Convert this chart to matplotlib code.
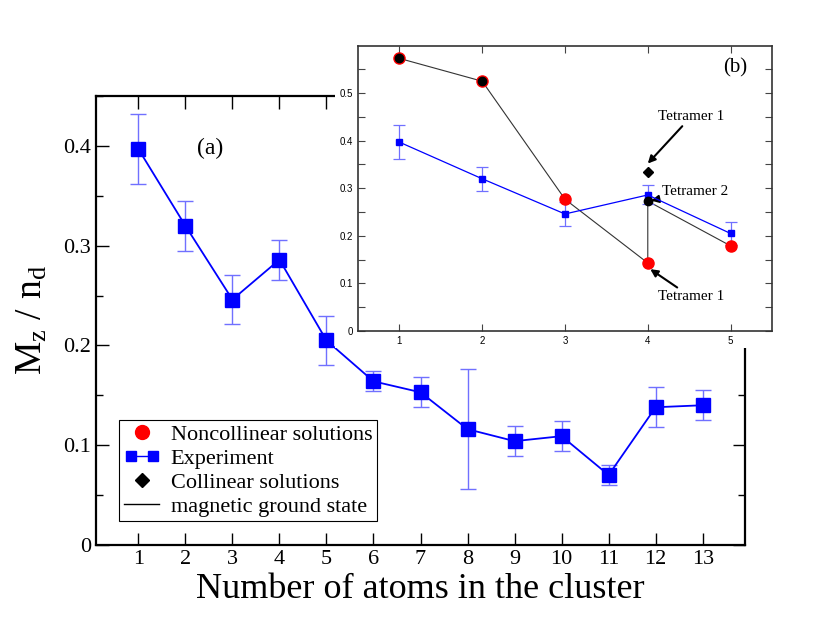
import matplotlib
matplotlib.use("Agg")
import matplotlib.pyplot as plt
from matplotlib.lines import Line2D
from matplotlib.patches import Rectangle
from matplotlib.legend_handler import HandlerLine2D
from matplotlib.ticker import MultipleLocator, StrMethodFormatter

# main panel (a): experiment
n_atoms = [1, 2, 3, 4, 5, 6, 7, 8, 9, 10, 11, 12, 13]
exp_val = [0.397, 0.320, 0.246, 0.286, 0.205, 0.164, 0.153, 0.116, 0.104, 0.109, 0.070, 0.138, 0.140]
exp_err = [0.035, 0.025, 0.025, 0.020, 0.025, 0.010, 0.015, 0.060, 0.015, 0.015, 0.010, 0.020, 0.015]

# inset (b): theory
nc_x = [1, 2, 3, 4, 5]
nc_val = [0.573, 0.525, 0.277, 0.143, 0.179]
gs_x = [1, 2, 3, 4, 4, 5]
gs_val = [0.573, 0.525, 0.277, 0.143, 0.273, 0.179]
gs_dot_x = [1, 2, 4]
gs_dot_val = [0.573, 0.525, 0.273]
col_x = [4]
col_val = [0.335]

serif = ["Liberation Serif", "DejaVu Serif"]
plt.rcParams["font.family"] = serif
plt.rcParams["mathtext.fontset"] = "custom"
plt.rcParams["mathtext.rm"] = "Liberation Serif"
plt.rcParams["mathtext.it"] = "Liberation Serif"

fig = plt.figure(figsize=(8.3, 6.41), dpi=100)
ax = fig.add_axes([0.1157, 0.150, 0.7819, 0.700])

ax.errorbar(n_atoms, exp_val, yerr=exp_err, color="#0000ff", marker="s", ms=10,
            lw=1.3, ecolor="#7070ff", elinewidth=1.0, capsize=6, capthick=1.0)
ax.set_xlim(0.1, 13.9)
ax.set_ylim(0, 0.45)
ax.set_xticks(n_atoms)
ax.yaxis.set_major_locator(MultipleLocator(0.1))
ax.yaxis.set_minor_locator(MultipleLocator(0.05))
ax.yaxis.set_major_formatter(StrMethodFormatter("{x:g}"))
ax.tick_params(which="both", direction="in", top=True, right=True, labelsize=16)
ax.tick_params(which="major", length=9, width=1)
ax.tick_params(which="minor", length=5, width=1)
for s in ax.spines.values():
    s.set_linewidth(1.6)
ax.set_xlabel("Number of atoms in the cluster", fontsize=26, labelpad=3)
ax.set_ylabel(r"$\mathrm{M_z\ /\ n_d}$", fontsize=27, labelpad=10)
ax.text(0.176, 0.884, "(a)", transform=ax.transAxes, fontsize=17, ha="center", va="center")

h_nc = Line2D([], [], color="red", marker="o", ls="none", ms=10)
h_exp = Line2D([], [], color="#0000ff", marker="s", ms=7, lw=1)
h_col = Line2D([], [], color="black", marker="D", ls="none", ms=7)
h_gs = Line2D([], [], color="black", lw=1)
leg = ax.legend([h_nc, h_exp, h_col, h_gs],
                ["Noncollinear solutions", "Experiment", "Collinear solutions", "magnetic ground state"],
                loc="lower left", bbox_to_anchor=(0.036, 0.053), fontsize=16, numpoints=1,
                handler_map={h_exp: HandlerLine2D(numpoints=2)}, fancybox=False,
                edgecolor="black", framealpha=1, borderpad=0.2, labelspacing=0.15,
                handlelength=1.6, handletextpad=0.5, borderaxespad=0)
leg.get_frame().set_linewidth(0.8)

# white patch behind the inset and its labels
fig.add_artist(Rectangle((335 / 830, 1 - 348 / 641), 470 / 830, 330 / 641,
                         transform=fig.transFigure, facecolor="white", edgecolor="none", zorder=1))

ins = fig.add_axes([0.4313, 0.4836, 0.4988, 0.4446], zorder=2)
ins.errorbar(n_atoms[:5], exp_val[:5], yerr=exp_err[:5], color="#0000ff", marker="s", ms=5,
             lw=0.9, ecolor="#7070ff", elinewidth=0.9, capsize=4, capthick=0.9, zorder=3)
ins.plot(gs_x, gs_val, color="#333333", lw=0.8, zorder=2)
ins.plot(nc_x, nc_val, color="red", marker="o", ls="none", ms=8, zorder=4)
ins.plot(gs_dot_x, gs_dot_val, color="black", marker="o", ls="none", ms=6, zorder=5)
ins.plot(col_x, col_val, color="black", marker="D", ls="none", ms=5, zorder=5)
ins.set_xlim(0.5, 5.5)
ins.set_ylim(0, 0.599)
ins.set_xticks([1, 2, 3, 4, 5])
ins.yaxis.set_major_locator(MultipleLocator(0.1))
ins.yaxis.set_minor_locator(MultipleLocator(0.05))
ins.yaxis.set_major_formatter(StrMethodFormatter("{x:g}"))
ins.tick_params(which="both", direction="in", top=True, right=True, labelsize=7,
                length=5, width=0.8, color="#444444")
for lab in ins.get_xticklabels() + ins.get_yticklabels():
    lab.set_family(["Liberation Sans", "DejaVu Sans"])
for s in ins.spines.values():
    s.set_linewidth(1.2)
    s.set_color("#333333")
ins.text(0.91, 0.923, "(b)", transform=ins.transAxes, fontsize=15, ha="center", va="center")

arrow = dict(arrowstyle="-|>", color="black", lw=1.5, mutation_scale=11, shrinkA=0, shrinkB=0)
ins.annotate("Tetramer 1", xy=(4.0, 0.352), xytext=(4.12, 0.45), fontsize=11,
             va="center", arrowprops=arrow)
ins.annotate("Tetramer 2", xy=(4.04, 0.274), xytext=(4.17, 0.293), fontsize=11,
             va="center", arrowprops=arrow)
ins.annotate("Tetramer 1", xy=(4.03, 0.130), xytext=(4.12, 0.072), fontsize=11,
             va="center", arrowprops=arrow)

fig.savefig("out.png", dpi=100)
